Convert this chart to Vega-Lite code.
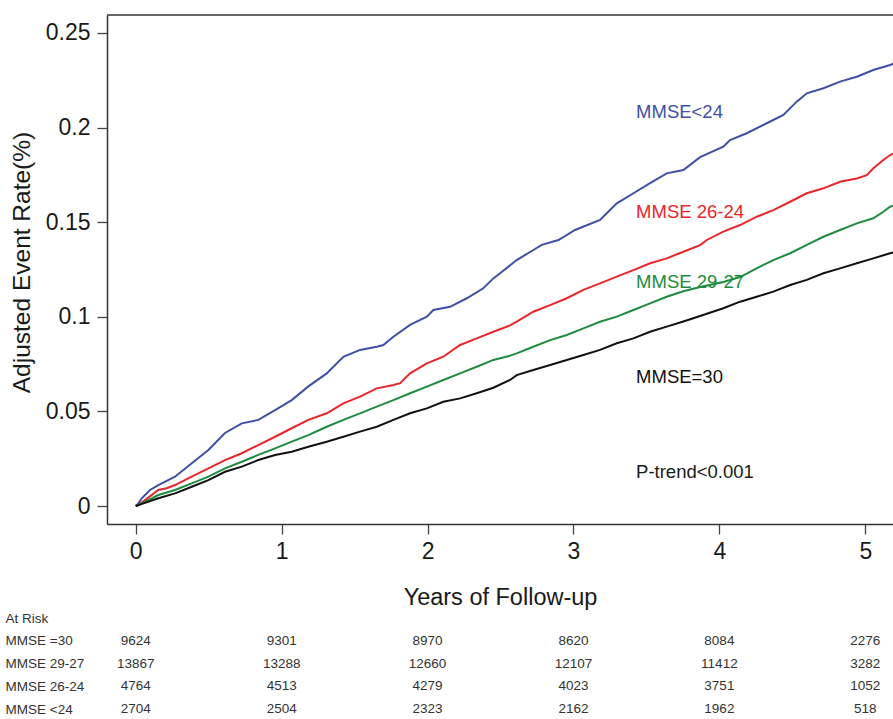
{
  "$schema": "https://vega.github.io/schema/vega-lite/v6.json",
  "width": 786,
  "height": 509,
  "autosize": {"type": "none"},
  "padding": {"left": 107, "top": 15, "right": 0, "bottom": 195},
  "background": "white",
  "config": {"view": {"stroke": null}, "font": "Liberation Sans"},
  "datasets": {
    "curves": [
      {"group": "MMSE<24", "year": 0, "rate": 0},
      {"group": "MMSE<24", "year": 0.018, "rate": 0.0014},
      {"group": "MMSE<24", "year": 0.041, "rate": 0.0041},
      {"group": "MMSE<24", "year": 0.098, "rate": 0.0085},
      {"group": "MMSE<24", "year": 0.155, "rate": 0.0111},
      {"group": "MMSE<24", "year": 0.269, "rate": 0.0155},
      {"group": "MMSE<24", "year": 0.384, "rate": 0.0226},
      {"group": "MMSE<24", "year": 0.498, "rate": 0.0296},
      {"group": "MMSE<24", "year": 0.612, "rate": 0.0386},
      {"group": "MMSE<24", "year": 0.727, "rate": 0.0437},
      {"group": "MMSE<24", "year": 0.84, "rate": 0.0455},
      {"group": "MMSE<24", "year": 0.955, "rate": 0.0507},
      {"group": "MMSE<24", "year": 1.069, "rate": 0.056},
      {"group": "MMSE<24", "year": 1.181, "rate": 0.0631},
      {"group": "MMSE<24", "year": 1.309, "rate": 0.0701},
      {"group": "MMSE<24", "year": 1.423, "rate": 0.0789},
      {"group": "MMSE<24", "year": 1.537, "rate": 0.0825},
      {"group": "MMSE<24", "year": 1.652, "rate": 0.0842},
      {"group": "MMSE<24", "year": 1.697, "rate": 0.0851},
      {"group": "MMSE<24", "year": 1.766, "rate": 0.0895},
      {"group": "MMSE<24", "year": 1.88, "rate": 0.0957},
      {"group": "MMSE<24", "year": 1.995, "rate": 0.1001},
      {"group": "MMSE<24", "year": 2.04, "rate": 0.1036},
      {"group": "MMSE<24", "year": 2.154, "rate": 0.1053},
      {"group": "MMSE<24", "year": 2.269, "rate": 0.1098},
      {"group": "MMSE<24", "year": 2.382, "rate": 0.1151},
      {"group": "MMSE<24", "year": 2.451, "rate": 0.1203},
      {"group": "MMSE<24", "year": 2.497, "rate": 0.123},
      {"group": "MMSE<24", "year": 2.611, "rate": 0.13},
      {"group": "MMSE<24", "year": 2.725, "rate": 0.1353},
      {"group": "MMSE<24", "year": 2.783, "rate": 0.138},
      {"group": "MMSE<24", "year": 2.897, "rate": 0.1406},
      {"group": "MMSE<24", "year": 3.011, "rate": 0.1459},
      {"group": "MMSE<24", "year": 3.182, "rate": 0.1512},
      {"group": "MMSE<24", "year": 3.297, "rate": 0.16},
      {"group": "MMSE<24", "year": 3.411, "rate": 0.1653},
      {"group": "MMSE<24", "year": 3.525, "rate": 0.1706},
      {"group": "MMSE<24", "year": 3.639, "rate": 0.1758},
      {"group": "MMSE<24", "year": 3.753, "rate": 0.1776},
      {"group": "MMSE<24", "year": 3.868, "rate": 0.1844},
      {"group": "MMSE<24", "year": 4.027, "rate": 0.1899},
      {"group": "MMSE<24", "year": 4.073, "rate": 0.1934},
      {"group": "MMSE<24", "year": 4.188, "rate": 0.197},
      {"group": "MMSE<24", "year": 4.325, "rate": 0.2023},
      {"group": "MMSE<24", "year": 4.439, "rate": 0.2067},
      {"group": "MMSE<24", "year": 4.53, "rate": 0.2137},
      {"group": "MMSE<24", "year": 4.599, "rate": 0.2181},
      {"group": "MMSE<24", "year": 4.713, "rate": 0.2208},
      {"group": "MMSE<24", "year": 4.827, "rate": 0.2243},
      {"group": "MMSE<24", "year": 4.942, "rate": 0.2269},
      {"group": "MMSE<24", "year": 5.055, "rate": 0.2304},
      {"group": "MMSE<24", "year": 5.17, "rate": 0.2331},
      {"group": "MMSE<24", "year": 5.22, "rate": 0.2345},

      {"group": "MMSE 26-24", "year": 0, "rate": 0},
      {"group": "MMSE 26-24", "year": 0.018, "rate": 0.0005},
      {"group": "MMSE 26-24", "year": 0.155, "rate": 0.0085},
      {"group": "MMSE 26-24", "year": 0.212, "rate": 0.0094},
      {"group": "MMSE 26-24", "year": 0.269, "rate": 0.0111},
      {"group": "MMSE 26-24", "year": 0.384, "rate": 0.0155},
      {"group": "MMSE 26-24", "year": 0.498, "rate": 0.0199},
      {"group": "MMSE 26-24", "year": 0.612, "rate": 0.0243},
      {"group": "MMSE 26-24", "year": 0.727, "rate": 0.0279},
      {"group": "MMSE 26-24", "year": 0.84, "rate": 0.0322},
      {"group": "MMSE 26-24", "year": 0.955, "rate": 0.0366},
      {"group": "MMSE 26-24", "year": 1.069, "rate": 0.0411},
      {"group": "MMSE 26-24", "year": 1.183, "rate": 0.0455},
      {"group": "MMSE 26-24", "year": 1.309, "rate": 0.049},
      {"group": "MMSE 26-24", "year": 1.423, "rate": 0.0543},
      {"group": "MMSE 26-24", "year": 1.537, "rate": 0.0578},
      {"group": "MMSE 26-24", "year": 1.652, "rate": 0.0622},
      {"group": "MMSE 26-24", "year": 1.766, "rate": 0.064},
      {"group": "MMSE 26-24", "year": 1.812, "rate": 0.0649},
      {"group": "MMSE 26-24", "year": 1.88, "rate": 0.0701},
      {"group": "MMSE 26-24", "year": 1.995, "rate": 0.0754},
      {"group": "MMSE 26-24", "year": 2.108, "rate": 0.0789},
      {"group": "MMSE 26-24", "year": 2.223, "rate": 0.0851},
      {"group": "MMSE 26-24", "year": 2.337, "rate": 0.0886},
      {"group": "MMSE 26-24", "year": 2.451, "rate": 0.0921},
      {"group": "MMSE 26-24", "year": 2.565, "rate": 0.0955},
      {"group": "MMSE 26-24", "year": 2.611, "rate": 0.0974},
      {"group": "MMSE 26-24", "year": 2.725, "rate": 0.1027},
      {"group": "MMSE 26-24", "year": 2.84, "rate": 0.1062},
      {"group": "MMSE 26-24", "year": 2.954, "rate": 0.1098},
      {"group": "MMSE 26-24", "year": 3.068, "rate": 0.1142},
      {"group": "MMSE 26-24", "year": 3.182, "rate": 0.1177},
      {"group": "MMSE 26-24", "year": 3.297, "rate": 0.1212},
      {"group": "MMSE 26-24", "year": 3.411, "rate": 0.1247},
      {"group": "MMSE 26-24", "year": 3.525, "rate": 0.1283},
      {"group": "MMSE 26-24", "year": 3.639, "rate": 0.1309},
      {"group": "MMSE 26-24", "year": 3.753, "rate": 0.1344},
      {"group": "MMSE 26-24", "year": 3.868, "rate": 0.1379},
      {"group": "MMSE 26-24", "year": 3.914, "rate": 0.1406},
      {"group": "MMSE 26-24", "year": 4.027, "rate": 0.145},
      {"group": "MMSE 26-24", "year": 4.142, "rate": 0.1485},
      {"group": "MMSE 26-24", "year": 4.256, "rate": 0.1529},
      {"group": "MMSE 26-24", "year": 4.37, "rate": 0.1564},
      {"group": "MMSE 26-24", "year": 4.485, "rate": 0.1608},
      {"group": "MMSE 26-24", "year": 4.599, "rate": 0.1653},
      {"group": "MMSE 26-24", "year": 4.713, "rate": 0.1679},
      {"group": "MMSE 26-24", "year": 4.827, "rate": 0.1714},
      {"group": "MMSE 26-24", "year": 4.942, "rate": 0.1731},
      {"group": "MMSE 26-24", "year": 5.01, "rate": 0.1749},
      {"group": "MMSE 26-24", "year": 5.055, "rate": 0.1785},
      {"group": "MMSE 26-24", "year": 5.124, "rate": 0.1829},
      {"group": "MMSE 26-24", "year": 5.17, "rate": 0.1855},
      {"group": "MMSE 26-24", "year": 5.22, "rate": 0.187},

      {"group": "MMSE 29-27", "year": 0, "rate": 0},
      {"group": "MMSE 29-27", "year": 0.018, "rate": 0.0005},
      {"group": "MMSE 29-27", "year": 0.155, "rate": 0.0058},
      {"group": "MMSE 29-27", "year": 0.269, "rate": 0.0085},
      {"group": "MMSE 29-27", "year": 0.384, "rate": 0.012},
      {"group": "MMSE 29-27", "year": 0.498, "rate": 0.0155},
      {"group": "MMSE 29-27", "year": 0.612, "rate": 0.0199},
      {"group": "MMSE 29-27", "year": 0.727, "rate": 0.0234},
      {"group": "MMSE 29-27", "year": 0.84, "rate": 0.027},
      {"group": "MMSE 29-27", "year": 0.955, "rate": 0.0305},
      {"group": "MMSE 29-27", "year": 1.069, "rate": 0.034},
      {"group": "MMSE 29-27", "year": 1.183, "rate": 0.0375},
      {"group": "MMSE 29-27", "year": 1.309, "rate": 0.0419},
      {"group": "MMSE 29-27", "year": 1.423, "rate": 0.0455},
      {"group": "MMSE 29-27", "year": 1.537, "rate": 0.049},
      {"group": "MMSE 29-27", "year": 1.652, "rate": 0.0525},
      {"group": "MMSE 29-27", "year": 1.766, "rate": 0.056},
      {"group": "MMSE 29-27", "year": 1.88, "rate": 0.0596},
      {"group": "MMSE 29-27", "year": 1.995, "rate": 0.0631},
      {"group": "MMSE 29-27", "year": 2.108, "rate": 0.0666},
      {"group": "MMSE 29-27", "year": 2.223, "rate": 0.0701},
      {"group": "MMSE 29-27", "year": 2.337, "rate": 0.0736},
      {"group": "MMSE 29-27", "year": 2.451, "rate": 0.0772},
      {"group": "MMSE 29-27", "year": 2.565, "rate": 0.0795},
      {"group": "MMSE 29-27", "year": 2.611, "rate": 0.0807},
      {"group": "MMSE 29-27", "year": 2.725, "rate": 0.0842},
      {"group": "MMSE 29-27", "year": 2.84, "rate": 0.0877},
      {"group": "MMSE 29-27", "year": 2.954, "rate": 0.0904},
      {"group": "MMSE 29-27", "year": 3.068, "rate": 0.0939},
      {"group": "MMSE 29-27", "year": 3.182, "rate": 0.0974},
      {"group": "MMSE 29-27", "year": 3.297, "rate": 0.1001},
      {"group": "MMSE 29-27", "year": 3.411, "rate": 0.1036},
      {"group": "MMSE 29-27", "year": 3.525, "rate": 0.1071},
      {"group": "MMSE 29-27", "year": 3.639, "rate": 0.1106},
      {"group": "MMSE 29-27", "year": 3.753, "rate": 0.1135},
      {"group": "MMSE 29-27", "year": 3.868, "rate": 0.1158},
      {"group": "MMSE 29-27", "year": 4.027, "rate": 0.1184},
      {"group": "MMSE 29-27", "year": 4.142, "rate": 0.121},
      {"group": "MMSE 29-27", "year": 4.256, "rate": 0.1256},
      {"group": "MMSE 29-27", "year": 4.37, "rate": 0.13},
      {"group": "MMSE 29-27", "year": 4.485, "rate": 0.1336},
      {"group": "MMSE 29-27", "year": 4.599, "rate": 0.138},
      {"group": "MMSE 29-27", "year": 4.713, "rate": 0.1423},
      {"group": "MMSE 29-27", "year": 4.827, "rate": 0.1459},
      {"group": "MMSE 29-27", "year": 4.942, "rate": 0.1494},
      {"group": "MMSE 29-27", "year": 5.055, "rate": 0.1521},
      {"group": "MMSE 29-27", "year": 5.124, "rate": 0.1555},
      {"group": "MMSE 29-27", "year": 5.17, "rate": 0.1582},
      {"group": "MMSE 29-27", "year": 5.22, "rate": 0.1595},

      {"group": "MMSE=30", "year": 0, "rate": 0},
      {"group": "MMSE=30", "year": 0.018, "rate": 0.0005},
      {"group": "MMSE=30", "year": 0.155, "rate": 0.0041},
      {"group": "MMSE=30", "year": 0.269, "rate": 0.0067},
      {"group": "MMSE=30", "year": 0.384, "rate": 0.0102},
      {"group": "MMSE=30", "year": 0.498, "rate": 0.0137},
      {"group": "MMSE=30", "year": 0.612, "rate": 0.0181},
      {"group": "MMSE=30", "year": 0.727, "rate": 0.0208},
      {"group": "MMSE=30", "year": 0.84, "rate": 0.0243},
      {"group": "MMSE=30", "year": 0.955, "rate": 0.027},
      {"group": "MMSE=30", "year": 1.069, "rate": 0.0287},
      {"group": "MMSE=30", "year": 1.183, "rate": 0.0313},
      {"group": "MMSE=30", "year": 1.309, "rate": 0.034},
      {"group": "MMSE=30", "year": 1.423, "rate": 0.0366},
      {"group": "MMSE=30", "year": 1.537, "rate": 0.0393},
      {"group": "MMSE=30", "year": 1.652, "rate": 0.0419},
      {"group": "MMSE=30", "year": 1.766, "rate": 0.0455},
      {"group": "MMSE=30", "year": 1.88, "rate": 0.049},
      {"group": "MMSE=30", "year": 1.995, "rate": 0.0516},
      {"group": "MMSE=30", "year": 2.108, "rate": 0.0551},
      {"group": "MMSE=30", "year": 2.223, "rate": 0.0569},
      {"group": "MMSE=30", "year": 2.337, "rate": 0.0596},
      {"group": "MMSE=30", "year": 2.451, "rate": 0.0625},
      {"group": "MMSE=30", "year": 2.565, "rate": 0.0666},
      {"group": "MMSE=30", "year": 2.611, "rate": 0.0692},
      {"group": "MMSE=30", "year": 2.725, "rate": 0.0719},
      {"group": "MMSE=30", "year": 2.84, "rate": 0.0745},
      {"group": "MMSE=30", "year": 2.954, "rate": 0.0772},
      {"group": "MMSE=30", "year": 3.068, "rate": 0.0798},
      {"group": "MMSE=30", "year": 3.182, "rate": 0.0825},
      {"group": "MMSE=30", "year": 3.297, "rate": 0.086},
      {"group": "MMSE=30", "year": 3.411, "rate": 0.0886},
      {"group": "MMSE=30", "year": 3.525, "rate": 0.0921},
      {"group": "MMSE=30", "year": 3.639, "rate": 0.0948},
      {"group": "MMSE=30", "year": 3.753, "rate": 0.0975},
      {"group": "MMSE=30", "year": 3.868, "rate": 0.1004},
      {"group": "MMSE=30", "year": 4.027, "rate": 0.1045},
      {"group": "MMSE=30", "year": 4.142, "rate": 0.108},
      {"group": "MMSE=30", "year": 4.256, "rate": 0.1106},
      {"group": "MMSE=30", "year": 4.37, "rate": 0.1133},
      {"group": "MMSE=30", "year": 4.485, "rate": 0.1168},
      {"group": "MMSE=30", "year": 4.599, "rate": 0.1195},
      {"group": "MMSE=30", "year": 4.713, "rate": 0.123},
      {"group": "MMSE=30", "year": 4.827, "rate": 0.1256},
      {"group": "MMSE=30", "year": 4.942, "rate": 0.1283},
      {"group": "MMSE=30", "year": 5.055, "rate": 0.1309},
      {"group": "MMSE=30", "year": 5.17, "rate": 0.1336},
      {"group": "MMSE=30", "year": 5.22, "rate": 0.1345}
    ],
    "labels": [
      {"label": "MMSE<24", "year": 3.429, "rate": 0.2083},
      {"label": "MMSE 26-24", "year": 3.429, "rate": 0.1556},
      {"label": "MMSE 29-27", "year": 3.429, "rate": 0.1186},
      {"label": "MMSE=30", "year": 3.429, "rate": 0.0684},
      {"label": "P-trend<0.001", "year": 3.429, "rate": 0.0181}
    ],
    "atrisk": [
      {"group": "MMSE =30", "year": 0, "n": 9624},
      {"group": "MMSE =30", "year": 1, "n": 9301},
      {"group": "MMSE =30", "year": 2, "n": 8970},
      {"group": "MMSE =30", "year": 3, "n": 8620},
      {"group": "MMSE =30", "year": 4, "n": 8084},
      {"group": "MMSE =30", "year": 5, "n": 2276},
      {"group": "MMSE 29-27", "year": 0, "n": 13867},
      {"group": "MMSE 29-27", "year": 1, "n": 13288},
      {"group": "MMSE 29-27", "year": 2, "n": 12660},
      {"group": "MMSE 29-27", "year": 3, "n": 12107},
      {"group": "MMSE 29-27", "year": 4, "n": 11412},
      {"group": "MMSE 29-27", "year": 5, "n": 3282},
      {"group": "MMSE 26-24", "year": 0, "n": 4764},
      {"group": "MMSE 26-24", "year": 1, "n": 4513},
      {"group": "MMSE 26-24", "year": 2, "n": 4279},
      {"group": "MMSE 26-24", "year": 3, "n": 4023},
      {"group": "MMSE 26-24", "year": 4, "n": 3751},
      {"group": "MMSE 26-24", "year": 5, "n": 1052},
      {"group": "MMSE <24", "year": 0, "n": 2704},
      {"group": "MMSE <24", "year": 1, "n": 2504},
      {"group": "MMSE <24", "year": 2, "n": 2323},
      {"group": "MMSE <24", "year": 3, "n": 2162},
      {"group": "MMSE <24", "year": 4, "n": 1962},
      {"group": "MMSE <24", "year": 5, "n": 518}
    ]
  },
  "layer": [
    {
      "layer": [
        {
          "data": {"name": "curves"},
          "mark": {"type": "line", "strokeWidth": 2, "clip": true},
          "encoding": {
            "x": {
              "field": "year", "type": "quantitative",
              "scale": {"domain": [-0.197, 5.19], "nice": false, "zero": false},
              "axis": {
                "values": [0, 1, 2, 3, 4, 5], "format": "d",
                "tickSize": 10, "labelPadding": 6, "labelFontSize": 23, "labelColor": "#1a1a1a",
                "title": "Years of Follow-up", "titleFontSize": 23.5, "titleFontWeight": "normal",
                "titleColor": "#1a1a1a", "titlePadding": 22,
                "domainColor": "#333333", "domainWidth": 1.5, "tickColor": "#444444", "tickWidth": 1.3,
                "grid": false, "labelFlush": false, "labelOverlap": false
              }
            },
            "y": {
              "field": "rate", "type": "quantitative",
              "scale": {"domain": [-0.0095, 0.2595], "nice": false, "zero": false},
              "axis": {
                "values": [0, 0.05, 0.1, 0.15, 0.2, 0.25], "format": "~g",
                "tickSize": 10, "labelPadding": 7, "labelFontSize": 23, "labelColor": "#1a1a1a",
                "title": "Adjusted Event Rate(%)", "titleFontSize": 24.5, "titleFontWeight": "normal",
                "titleColor": "#1a1a1a", "titlePadding": 11, "titleY": 247,
                "domainColor": "#333333", "domainWidth": 1.5, "tickColor": "#444444", "tickWidth": 1.3,
                "grid": false, "labelFlush": false, "labelOverlap": false
              }
            },
            "color": {
              "field": "group", "type": "nominal",
              "scale": {
                "domain": ["MMSE<24", "MMSE 26-24", "MMSE 29-27", "MMSE=30", "P-trend<0.001"],
                "range": ["#3F4FA5", "#E8262B", "#1E8B3F", "#111111", "#1a1a1a"]
              },
              "legend": null
            }
          }
        },
        {
          "data": {"name": "labels"},
          "mark": {"type": "text", "fontSize": 18.5, "align": "left", "baseline": "middle"},
          "encoding": {
            "x": {"field": "year", "type": "quantitative", "scale": {"domain": [-0.197, 5.19], "nice": false, "zero": false}},
            "y": {"field": "rate", "type": "quantitative", "scale": {"domain": [-0.0095, 0.2595], "nice": false, "zero": false}},
            "text": {"field": "label"},
            "color": {"field": "label", "type": "nominal", "legend": null}
          }
        },
        {
          "data": {"values": [{}]},
          "mark": {"type": "rule", "color": "#333333", "strokeWidth": 1.5},
          "encoding": {
            "y": {"datum": 0.2595, "type": "quantitative", "scale": {"domain": [-0.0095, 0.2595], "nice": false, "zero": false}}
          }
        }
      ]
    },
    {
      "data": {"name": "atrisk"},
      "mark": {"type": "text", "fontSize": 13.5, "color": "#333333", "align": "center", "baseline": "middle"},
      "encoding": {
        "x": {"field": "year", "type": "quantitative", "scale": {"domain": [-0.197, 5.19], "nice": false, "zero": false}},
        "y": {
          "field": "group", "type": "nominal",
          "scale": {"type": "point", "domain": ["At Risk", "MMSE =30", "MMSE 29-27", "MMSE 26-24", "MMSE <24"], "range": [603, 694], "padding": 0},
          "axis": {
            "orient": "left", "domain": false, "ticks": false, "tickSize": 0,
            "labelAlign": "left", "labelPadding": 102, "labelFontSize": 13.5, "labelColor": "#333333",
            "title": null, "grid": false, "labelOverlap": false, "labelLimit": 0
          }
        },
        "text": {"field": "n", "type": "quantitative", "format": "d"}
      }
    }
  ],
  "resolve": {"scale": {"y": "independent"}, "axis": {"y": "independent"}}
}
